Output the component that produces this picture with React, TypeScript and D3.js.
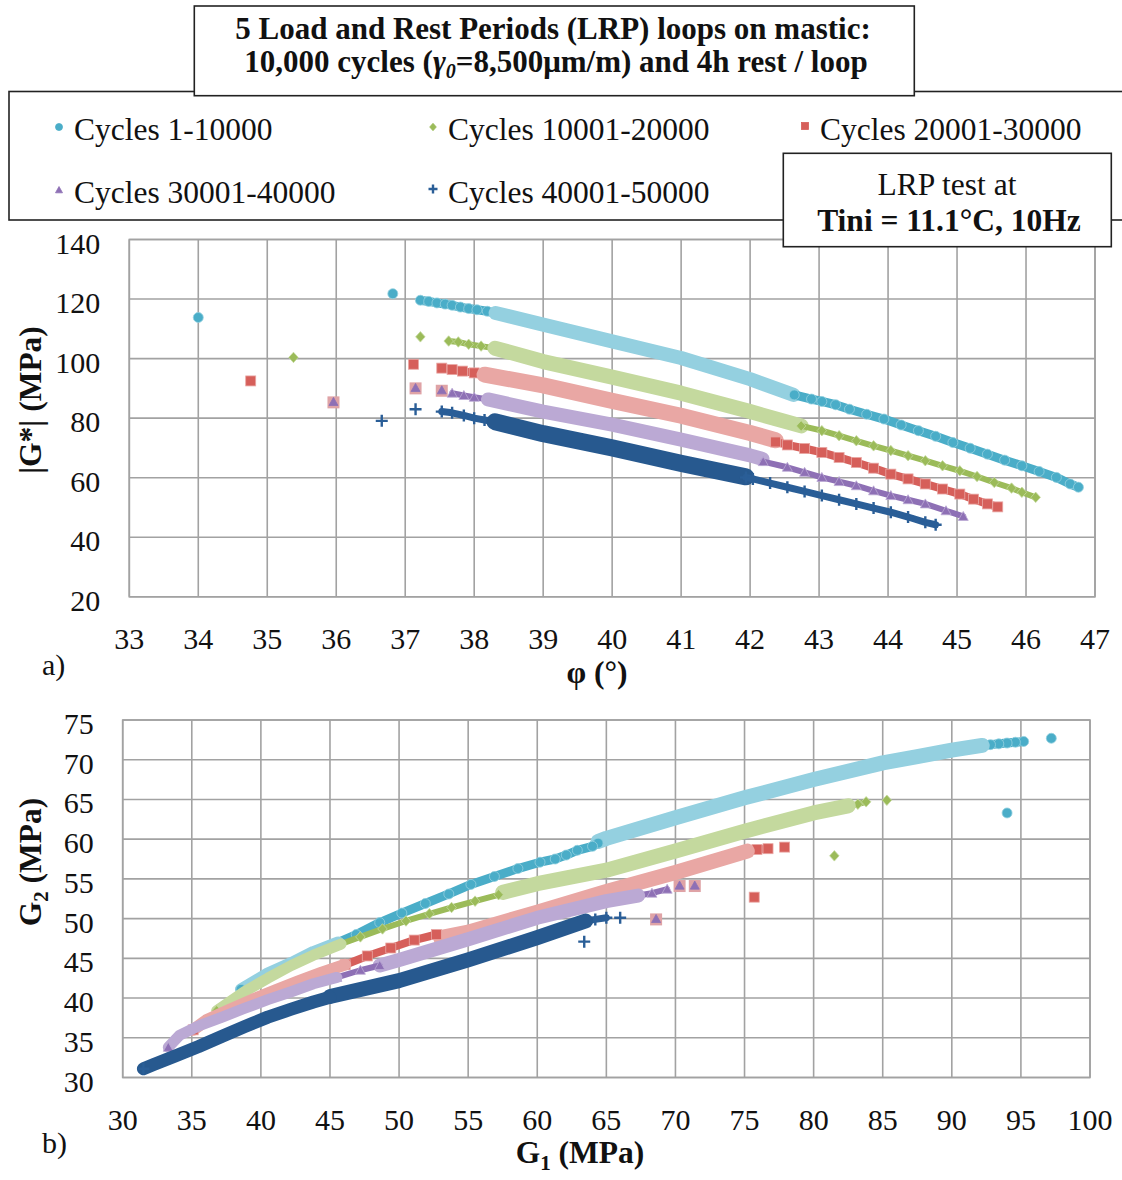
import React from "react";
import * as d3 from "d3";

type Pt = [number, number];

// ---------------- texts & ticks ----------------
const titleLine1 = "5 Load and Rest Periods (LRP) loops on mastic:";
const seriesNames = [
  "Cycles 1-10000",
  "Cycles 10001-20000",
  "Cycles 20001-30000",
  "Cycles 30001-40000",
  "Cycles 40001-50000",
];
const phiTicks = [33, 34, 35, 36, 37, 38, 39, 40, 41, 42, 43, 44, 45, 46, 47];
const gStarTicks = [20, 40, 60, 80, 100, 120, 140];
const g1Ticks = [30, 35, 40, 45, 50, 55, 60, 65, 70, 75, 80, 85, 90, 95, 100];
const g2Ticks = [30, 35, 40, 45, 50, 55, 60, 65, 70, 75];

// ---------------- series styling ----------------
const markerShapes = ["circle", "diamond", "square", "triangle", "plus"];
const markerColors = ["#4AADC8", "#9BBB59", "#D65F5A", "#8E70B5", "#2A5E97"];
const bandColors = ["#94D0E0", "#C4D99E", "#E9A7A4", "#BBA9D4", "#27598F"];

// ---------------- chart a) : phi (deg) vs |G*| (MPa) ----------------
const topCyanOutliers: Pt[] = [[34.0, 113.8], [36.82, 121.8]];
const topCyanHead: Pt[] = [[37.22, 119.6], [37.34, 119.2], [37.46, 118.7], [37.58, 118.3], [37.68, 117.9], [37.8, 117.3], [37.92, 116.8], [38.04, 116.4], [38.19, 115.9], [38.31, 115.3]];
const topCyanBand: Pt[] = [[38.31, 115.3], [39.0, 111.4], [40.0, 105.8], [41.0, 100.2], [42.0, 93.1], [42.63, 87.8]];
const topCyanTrail: Pt[] = [[42.64, 87.8], [42.89, 86.4], [43.04, 85.6], [43.24, 84.5], [43.44, 83.0], [43.69, 81.3], [43.94, 79.7], [44.19, 77.7], [44.44, 75.8], [44.69, 73.9], [44.94, 71.8], [45.19, 69.9], [45.44, 67.9], [45.69, 65.9], [45.94, 64.0], [46.19, 62.1], [46.44, 60.1], [46.64, 57.9], [46.76, 56.8]];

const topGreenOutliers: Pt[] = [[35.38, 100.4], [37.22, 107.3]];
const topGreenHead: Pt[] = [[37.63, 105.9], [37.77, 105.6], [37.92, 104.8], [38.1, 104.2], [38.3, 103.5]];
const topGreenBand: Pt[] = [[38.3, 103.5], [39.0, 99.0], [40.0, 93.8], [41.0, 88.4], [42.0, 82.2], [42.74, 77.4]];
const topGreenTrail: Pt[] = [[42.74, 77.4], [43.04, 75.8], [43.29, 74.1], [43.54, 72.4], [43.79, 70.7], [44.04, 69.1], [44.29, 67.4], [44.54, 65.7], [44.79, 64.0], [45.04, 62.3], [45.29, 60.4], [45.54, 58.4], [45.79, 56.5], [45.94, 55.1], [46.14, 53.4]];

const topRedOutliers: Pt[] = [[34.76, 92.5], [37.12, 98.1]];
const topRedHead: Pt[] = [[37.53, 96.8], [37.68, 96.3], [37.83, 95.8], [38.0, 95.2], [38.15, 94.6]];
const topRedBand: Pt[] = [[38.15, 94.6], [39.0, 91.0], [40.0, 85.8], [41.0, 80.8], [42.0, 75.0], [42.37, 72.6]];
const topRedTrail: Pt[] = [[42.37, 72.0], [42.54, 71.0], [42.79, 69.8], [43.04, 68.5], [43.29, 66.8], [43.54, 65.1], [43.79, 63.2], [44.04, 61.2], [44.29, 59.6], [44.54, 57.9], [44.79, 56.2], [45.04, 54.5], [45.24, 52.8], [45.44, 51.2], [45.59, 50.2]];

const topPurpleOutliers: Pt[] = [[35.96, 85.3], [37.15, 90.0], [37.53, 89.2]];
const topPurpleHead: Pt[] = [[37.68, 88.4], [37.85, 87.6], [38.0, 87.0], [38.2, 86.3]];
const topPurpleBand: Pt[] = [[38.2, 86.3], [39.0, 82.2], [40.0, 77.8], [41.0, 72.8], [42.0, 67.5], [42.18, 66.3]];
const topPurpleTrail: Pt[] = [[42.19, 65.4], [42.54, 63.5], [42.79, 61.8], [43.04, 60.1], [43.29, 58.7], [43.54, 57.3], [43.79, 55.6], [44.04, 54.0], [44.29, 52.6], [44.54, 51.2], [44.84, 48.9], [45.09, 47.0]];

const topBlueOutliers: Pt[] = [[36.66, 79.1], [37.15, 83.0]];
const topBlueHead: Pt[] = [[37.53, 82.2], [37.68, 81.8], [37.85, 80.9], [38.0, 80.0], [38.15, 79.4], [38.3, 78.8]];
const topBlueBand: Pt[] = [[38.3, 78.8], [39.0, 74.8], [40.0, 70.0], [41.0, 64.8], [41.94, 60.3]];
const topBlueTrail: Pt[] = [[41.94, 60.1], [42.04, 59.6], [42.29, 58.2], [42.54, 56.8], [42.79, 55.4], [43.04, 54.0], [43.29, 52.6], [43.54, 51.2], [43.79, 49.8], [44.04, 48.4], [44.29, 46.8], [44.54, 45.0], [44.69, 44.2]];

// ---------------- chart b) : G1 (MPa) vs G2 (MPa) ----------------
const botCyanOutliers: Pt[] = [[97.2, 72.7], [94.0, 63.3]];
const botCyanHead: Pt[] = [[95.2, 72.3], [94.6, 72.2], [94.0, 72.1], [93.4, 72.0], [92.8, 71.9], [92.2, 71.8]];
const botCyanBand: Pt[] = [[92.2, 71.8], [90.0, 71.2], [87.5, 70.4], [85.0, 69.6], [80.0, 67.5], [75.0, 65.2], [70.0, 62.7], [65.0, 60.1], [64.4, 59.7]];
const botCyanTrail: Pt[] = [[64.4, 59.5], [64.0, 59.1], [62.9, 58.6], [62.1, 58.0], [61.3, 57.5], [60.2, 57.1], [58.6, 56.3], [56.9, 55.3], [55.2, 54.3], [53.6, 53.1], [51.9, 51.9], [50.2, 50.7], [48.6, 49.5], [46.9, 48.0], [45.6, 47.0]];
const botCyanTail: Pt[] = [[45.6, 47.0], [43.8, 45.8], [42.2, 44.4], [40.5, 43.1], [38.56, 41.1]];

const botGreenOutliers: Pt[] = [[81.5, 57.9], [85.3, 64.9]];
const botGreenHead: Pt[] = [[83.8, 64.7], [83.2, 64.4], [82.5, 64.2]];
const botGreenBand: Pt[] = [[82.5, 64.2], [80.0, 63.3], [75.0, 61.0], [70.0, 58.5], [65.0, 56.1], [60.0, 54.4], [57.5, 53.3]];
const botGreenTrail: Pt[] = [[57.2, 53.0], [55.5, 52.2], [53.8, 51.4], [52.2, 50.6], [50.5, 49.7], [48.8, 48.7], [47.2, 47.7], [45.8, 46.8]];
const botGreenTail: Pt[] = [[45.8, 46.8], [43.8, 45.4], [42.2, 44.1], [40.5, 42.5], [38.8, 40.8], [36.8, 38.4]];

const botRedOutliers: Pt[] = [[75.7, 52.7], [77.9, 59.0]];
const botRedHead: Pt[] = [[76.7, 58.8], [75.9, 58.7], [75.2, 58.5]];
const botRedBand: Pt[] = [[75.2, 58.5], [70.0, 55.8], [65.0, 53.4], [60.0, 50.8], [55.0, 48.3], [53.0, 47.6]];
const botRedTrail: Pt[] = [[52.7, 48.0], [51.1, 47.3], [49.4, 46.3], [47.7, 45.3], [46.1, 44.2]];
const botRedTail: Pt[] = [[46.1, 44.2], [44.4, 43.2], [42.7, 42.1], [41.1, 41.0], [39.4, 39.8], [37.7, 38.5], [36.05, 37.2], [35.1, 36.0]];

const botPurpleOutliers: Pt[] = [[68.6, 49.9], [71.4, 54.1], [70.3, 54.1]];
const botPurpleHead: Pt[] = [[69.4, 53.7], [68.3, 53.2], [67.3, 52.9]];
const botPurpleBand: Pt[] = [[67.3, 52.9], [65.0, 52.2], [60.0, 50.1], [55.0, 47.4], [50.0, 44.8], [48.6, 44.1]];
const botPurpleTrail: Pt[] = [[48.6, 44.1], [47.2, 43.5], [45.5, 42.6]];
const botPurpleTail: Pt[] = [[45.5, 42.6], [43.8, 41.8], [42.2, 40.8], [40.5, 39.8], [38.8, 38.7], [37.2, 37.6], [35.5, 36.5], [34.1, 35.3], [33.3, 33.8]];

const botBlueOutliers: Pt[] = [[63.4, 47.1], [66.0, 50.1]];
const botBlueHead: Pt[] = [[65.0, 50.1], [64.2, 49.9], [63.5, 49.7]];
const botBlueBand: Pt[] = [[63.5, 49.7], [60.0, 47.6], [55.0, 44.8], [50.0, 42.2], [45.0, 40.2]];
const botBlueTrail: Pt[] = [];
const botBlueTail: Pt[] = [[45.0, 40.1], [43.8, 39.5], [42.2, 38.6], [40.5, 37.6], [38.8, 36.4], [37.2, 35.2], [35.5, 33.9], [33.8, 32.7], [32.2, 31.6], [31.5, 31.1]];

type SeriesData = { outliers: Pt[]; head: Pt[]; band: Pt[]; trail: Pt[]; tail: Pt[] };

const topSeries: SeriesData[] = [
  { outliers: topCyanOutliers, head: topCyanHead, band: topCyanBand, trail: topCyanTrail, tail: [] },
  { outliers: topGreenOutliers, head: topGreenHead, band: topGreenBand, trail: topGreenTrail, tail: [] },
  { outliers: topRedOutliers, head: topRedHead, band: topRedBand, trail: topRedTrail, tail: [] },
  { outliers: topPurpleOutliers, head: topPurpleHead, band: topPurpleBand, trail: topPurpleTrail, tail: [] },
  { outliers: topBlueOutliers, head: topBlueHead, band: topBlueBand, trail: topBlueTrail, tail: [] },
];
const botSeries: SeriesData[] = [
  { outliers: botCyanOutliers, head: botCyanHead, band: botCyanBand, trail: botCyanTrail, tail: botCyanTail },
  { outliers: botGreenOutliers, head: botGreenHead, band: botGreenBand, trail: botGreenTrail, tail: botGreenTail },
  { outliers: botRedOutliers, head: botRedHead, band: botRedBand, trail: botRedTrail, tail: botRedTail },
  { outliers: botPurpleOutliers, head: botPurpleHead, band: botPurpleBand, trail: botPurpleTrail, tail: botPurpleTail },
  { outliers: botBlueOutliers, head: botBlueHead, band: botBlueBand, trail: botBlueTrail, tail: botBlueTail },
];

// ---------------- layout ----------------
const W = 1122;
const H = 1180;
const FONT = '"Liberation Serif", "Times New Roman", Times, serif';
const TOP = { left: 129.3, right: 1095, top: 239.5, bottom: 596.8 };
const BOT = { left: 122.7, right: 1090, top: 720, bottom: 1077.5 };
const GRID = "#A2A2A2";
const topBandWidths = [14, 15, 16, 14, 17];
const botBandWidths = [15, 15, 15, 14, 15];
const tailWidths = [12, 11, 12, 11, 13];
const chainWidths = [9, 6, 8, 6, 7];
const markerSizes = [10, 10, 10, 10, 12];

function marker(shape: string, cx: number, cy: number, s: number, fill: string, edge: string, key: string | number) {
  const h = s / 2;
  switch (shape) {
    case "circle":
      return <circle key={key} cx={cx} cy={cy} r={h} fill={fill} stroke={edge} strokeWidth={0.8} />;
    case "diamond":
      return (
        <path key={key} d={`M${cx},${cy - h * 1.05}L${cx + h * 0.95},${cy}L${cx},${cy + h * 1.05}L${cx - h * 0.95},${cy}Z`} fill={fill} stroke={edge} strokeWidth={0.8} />
      );
    case "square":
      return <rect key={key} x={cx - h} y={cy - h} width={s} height={s} fill={fill} stroke={edge} strokeWidth={0.8} />;
    case "triangle":
      return <path key={key} d={`M${cx},${cy - h}L${cx + h},${cy + h * 0.8}L${cx - h},${cy + h * 0.8}Z`} fill={fill} stroke={edge} strokeWidth={0.8} />;
    default:
      return <path key={key} d={`M${cx - h},${cy}H${cx + h}M${cx},${cy - h}V${cy + h}`} stroke={fill} strokeWidth={2.4} fill="none" />;
  }
}

function Series({ data, idx, x, y, bandW }: { data: SeriesData; idx: number; x: d3.ScaleLinear<number, number>; y: d3.ScaleLinear<number, number>; bandW: number }) {
  const line = d3.line<Pt>().x((d) => x(d[0])).y((d) => y(d[1]));
  const shape = markerShapes[idx];
  const c = markerColors[idx];
  const lc = bandColors[idx];
  const s = markerSizes[idx];
  const edge = idx === 4 ? c : lc;
  const last = data.tail.length ? data.tail[data.tail.length - 1] : null;
  return (
    <g>
      {data.outliers.map((p, i) =>
        idx === 3 ? (
          <g key={"o" + i}>
            <rect x={x(p[0]) - 6} y={y(p[1]) - 6} width={12} height={12} fill="#DFA3A6" />
            {marker("triangle", x(p[0]), y(p[1]) - 0.5, 9, c, c, "t")}
          </g>
        ) : (
          marker(shape, x(p[0]), y(p[1]), s, c, edge, "o" + i)
        )
      )}
      <path d={line(data.head) || ""} stroke={c} strokeWidth={chainWidths[idx]} fill="none" strokeLinecap="round" strokeLinejoin="round" />
      {data.head.map((p, i) => marker(shape, x(p[0]), y(p[1]), s, c, edge, "h" + i))}
      <path d={line(data.band) || ""} stroke={lc} strokeWidth={bandW} fill="none" strokeLinecap="round" strokeLinejoin="round" />
      {data.trail.length > 0 && (
        <path d={line(data.trail) || ""} stroke={c} strokeWidth={chainWidths[idx]} fill="none" strokeLinecap="round" strokeLinejoin="round" />
      )}
      {data.trail.map((p, i) => marker(shape, x(p[0]), y(p[1]), s, c, edge, "t" + i))}
      {data.tail.length > 0 && (
        <path d={line(data.tail) || ""} stroke={lc} strokeWidth={tailWidths[idx]} fill="none" strokeLinecap="round" strokeLinejoin="round" />
      )}
      {last && marker(shape, x(last[0]), y(last[1]), s, c, edge, "end")}
    </g>
  );
}

function Grid({ box, x, y, xt, yt }: { box: typeof TOP; x: d3.ScaleLinear<number, number>; y: d3.ScaleLinear<number, number>; xt: number[]; yt: number[] }) {
  return (
    <g>
      {xt.map((t) => (
        <line key={"gx" + t} x1={x(t)} x2={x(t)} y1={box.top} y2={box.bottom} stroke={GRID} strokeWidth={1.6} />
      ))}
      {yt.map((t) => (
        <line key={"gy" + t} x1={box.left} x2={box.right} y1={y(t)} y2={y(t)} stroke={GRID} strokeWidth={1.6} />
      ))}
      {xt.map((t) => (
        <text key={"lx" + t} x={x(t)} y={box.bottom + 52.5} textAnchor="middle" fontSize={30}>
          {t}
        </text>
      ))}
      {yt.map((t) => (
        <text key={"ly" + t} x={box.left - 29} y={y(t) + 14} textAnchor="end" fontSize={30}>
          {t}
        </text>
      ))}
    </g>
  );
}

export default function App() {
  const xTop = d3.scaleLinear().domain([33, 47]).range([TOP.left, TOP.right]);
  const yTop = d3.scaleLinear().domain([20, 140]).range([TOP.bottom, TOP.top]);
  const xBot = d3.scaleLinear().domain([30, 100]).range([BOT.left, BOT.right]);
  const yBot = d3.scaleLinear().domain([30, 75]).range([BOT.bottom, BOT.top]);

  const legendPos: [number, number][] = [
    [59, 127],
    [433, 127],
    [805, 126],
    [59, 190],
    [433, 189],
  ];
  const legendBase = [140, 140, 140, 203, 203];

  return (
    <svg width={W} height={H} style={{ position: "absolute", left: 0, top: 0, display: "block", fontFamily: FONT }} fill="#111">
      <rect x={0} y={0} width={W} height={H} fill="#fff" />

      {/* legend box */}
      <rect x={9} y={91.5} width={1130} height={128.5} fill="#fff" stroke="#222" strokeWidth={1.6} />
      {seriesNames.map((n, i) => (
        <g key={n}>
          {i === 4
            ? marker("plus", legendPos[i][0], legendPos[i][1], 9, markerColors[i], markerColors[i], "lm")
            : marker(markerShapes[i], legendPos[i][0], legendPos[i][1], 7, markerColors[i], markerColors[i], "lm")}
          <text x={legendPos[i][0] + 15} y={legendBase[i]} fontSize={31.5}>
            {n}
          </text>
        </g>
      ))}

      {/* title box */}
      <rect x={194.3} y={6} width={720} height={89.7} fill="#fff" stroke="#222" strokeWidth={1.6} />
      <text x={553} y={39} textAnchor="middle" fontSize={31} fontWeight="bold">
        {titleLine1}
      </text>
      <text x={556} y={72} textAnchor="middle" fontSize={31} fontWeight="bold">
        <tspan>10,000 cycles (</tspan>
        <tspan fontStyle="italic">γ</tspan>
        <tspan fontStyle="italic" fontSize={20} dy={6}>0</tspan>
        <tspan dy={-6}>=8,500μm/m) and 4h rest / loop</tspan>
      </text>

      {/* chart a */}
      <Grid box={TOP} x={xTop} y={yTop} xt={phiTicks} yt={gStarTicks} />
      {topSeries.map((s, i) => (
        <Series key={"top" + i} data={s} idx={i} x={xTop} y={yTop} bandW={topBandWidths[i]} />
      ))}
      <rect x={TOP.left} y={TOP.top} width={TOP.right - TOP.left} height={TOP.bottom - TOP.top} fill="none" stroke={GRID} strokeWidth={1.6} />
      <text transform="translate(41,400) rotate(-90)" textAnchor="middle" fontSize={31.5} fontWeight="bold">
        |G*| (MPa)
      </text>
      <text x={597} y={683} textAnchor="middle" fontSize={31.5} fontWeight="bold">
        φ (°)
      </text>
      <text x={42} y={675} fontSize={30}>
        a)
      </text>

      {/* LRP box */}
      <rect x={783.3} y={153.3} width={328} height={93.4} fill="#fff" stroke="#222" strokeWidth={1.6} />
      <text x={947} y={195} textAnchor="middle" fontSize={31.5}>
        LRP test at
      </text>
      <text x={949} y={231} textAnchor="middle" fontSize={31.5} fontWeight="bold">
        Tini = 11.1°C, 10Hz
      </text>

      {/* chart b */}
      <Grid box={BOT} x={xBot} y={yBot} xt={g1Ticks} yt={g2Ticks} />
      {botSeries.map((s, i) => (
        <Series key={"bot" + i} data={s} idx={i} x={xBot} y={yBot} bandW={botBandWidths[i]} />
      ))}
      <rect x={BOT.left} y={BOT.top} width={BOT.right - BOT.left} height={BOT.bottom - BOT.top} fill="none" stroke={GRID} strokeWidth={1.6} />
      <text transform="translate(41,862) rotate(-90)" textAnchor="middle" fontSize={31.5} fontWeight="bold">
        <tspan>G</tspan>
        <tspan fontSize={21} dy={7}>2</tspan>
        <tspan dy={-7}> (MPa)</tspan>
      </text>
      <text x={580} y={1163} textAnchor="middle" fontSize={31.5} fontWeight="bold">
        <tspan>G</tspan>
        <tspan fontSize={21} dy={7}>1</tspan>
        <tspan dy={-7}> (MPa)</tspan>
      </text>
      <text x={42} y={1153} fontSize={30}>
        b)
      </text>
    </svg>
  );
}
